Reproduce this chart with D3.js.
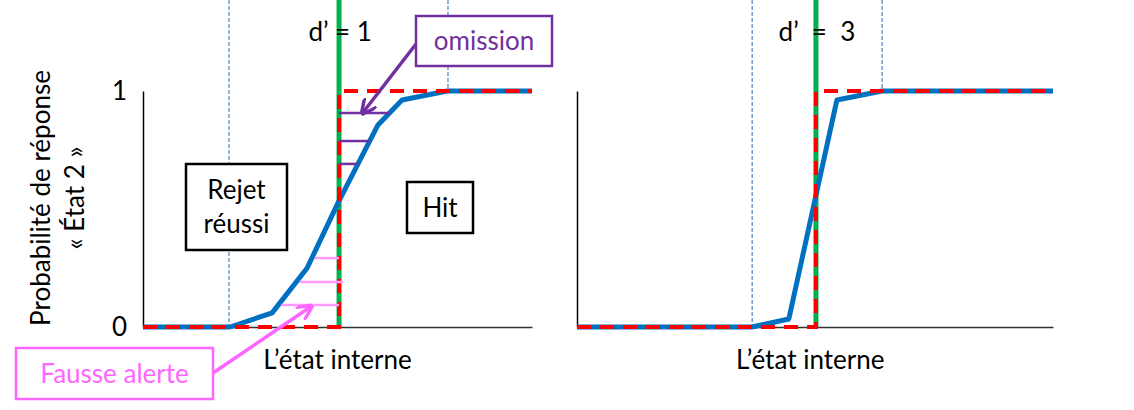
<!DOCTYPE html>
<html>
<head>
<meta charset="utf-8">
<script src="https://cdn.jsdelivr.net/npm/d3@7"></script>
<style>
  body { margin: 0; background: #fff; }
  text { font-family: Lato, "Open Sans", sans-serif; }
</style>
</head>
<body>
<svg id="chart"></svg>
<script>
// courbe psychométrique, panneau d' = 1 (état interne 0..100, probabilité 0..1)
const curve1X = [0, 22.4, 33.2, 42.2, 50.1, 60.4, 66.6, 78.2, 100];
const curve1Y = [0, 0, 0.06, 0.25, 0.525, 0.856, 0.962, 1, 1];
// panneau d' = 3
const curve3X = [0, 36.8, 44.5, 54.6, 64.1, 100];
const curve3Y = [0, 0, 0.034, 0.962, 1, 1];
// critère (ligne verte / échelon rouge)
const criterion1 = 50.4;
const criterion3 = 50.2;
// bornes pointillées (début / fin de la zone de transition)
const bounds1 = [22.1, 78.4];
const bounds3 = [36.8, 64.1];
// hachures omission / fausse alerte (niveaux de probabilité)
const omissionLevels = [0.907, 0.788, 0.691];
const falseAlarmLevels = [0.292, 0.191, 0.093];
const falseAlarmEnds = [50.4, 51.4, 50.4];
const yTicks = [0, 1];
const dLabels = ["d’ = 1", "d’  =  3"];

const width = 1134;
const height = 410;
const fs = 26; // taille de police
const svg = d3.select("#chart").attr("width", width).attr("height", height);
svg.append("rect").attr("width", width).attr("height", height).attr("fill", "#fff");

const plotTop = 91, plotBottom = 327;
const yScale = d3.scaleLinear().domain([0, 1]).range([plotBottom, plotTop]);
const x1 = d3.scaleLinear().domain([0, 100]).range([143, 532]);
const x3 = d3.scaleLinear().domain([0, 100]).range([577, 1053]);

const blue = "#0070C0", red = "#FF0000", green = "#00B050";
const purple = "#7030A0", pink = "#FF66FF", pinkLight = "#FF99FF";

// interpolation inverse : x sur la courbe pour une probabilité donnée
function xAtY(xs, ys, p) {
  for (let i = 1; i < xs.length; i++) {
    if (ys[i] >= p && ys[i - 1] < p) {
      return xs[i - 1] + (p - ys[i - 1]) / (ys[i] - ys[i - 1]) * (xs[i] - xs[i - 1]);
    }
  }
  return xs[xs.length - 1];
}

function drawPanel(xScale, cx, cy, crit, bounds, label, showTicks) {
  const g = svg.append("g");
  // lignes pointillées fines
  g.append("line")
    .attr("x1", xScale(bounds[0])).attr("x2", xScale(bounds[0]))
    .attr("y1", 0).attr("y2", yScale(0))
    .attr("stroke", "#4F81BD").attr("stroke-width", 1.2).attr("stroke-dasharray", "4,2");
  g.append("line")
    .attr("x1", xScale(bounds[1])).attr("x2", xScale(bounds[1]))
    .attr("y1", 0).attr("y2", yScale(1))
    .attr("stroke", "#4F81BD").attr("stroke-width", 1.2).attr("stroke-dasharray", "4,2");

  // axes
  const yAxis = d3.axisLeft(yScale).tickValues(showTicks ? yTicks : []).tickSize(0)
    .tickPadding(16).tickFormat(d3.format("d"));
  const gy = g.append("g").attr("transform", `translate(${xScale(0)},0)`).call(yAxis);
  gy.select(".domain").attr("stroke", "#000").attr("stroke-width", 1.5);
  gy.selectAll("text").attr("font-size", fs).attr("fill", "#000")
    .style("font-family", "Lato, sans-serif");
  const xAxis = d3.axisBottom(xScale).tickValues([]).tickSizeOuter(0);
  const gx = g.append("g").attr("transform", `translate(0,${yScale(0)})`).call(xAxis);
  gx.select(".domain").attr("stroke", "#333").attr("stroke-width", 1.5);

  // ligne du critère
  g.append("line")
    .attr("x1", xScale(crit)).attr("x2", xScale(crit))
    .attr("y1", 0).attr("y2", yScale(0))
    .attr("stroke", green).attr("stroke-width", 5);

  // texte d'
  g.append("text")
    .attr("x", xScale(crit) + 1).attr("y", 41)
    .attr("text-anchor", "middle").attr("font-size", fs).attr("fill", "#000")
    .style("white-space", "pre")
    .text(label);

  const line = d3.line().x(d => xScale(d[0])).y(d => yScale(d[1]));
  const pts = cx.map((v, i) => [v, cy[i]]);
  g.append("path").datum(pts).attr("d", line)
    .attr("fill", "none").attr("stroke", blue).attr("stroke-width", 5)
    .attr("stroke-linejoin", "round");

  // échelon idéal en rouge
  const step = [[0, 0], [crit, 0], [crit, 1], [100, 1]];
  g.append("path").datum(step).attr("d", line)
    .attr("fill", "none").attr("stroke", red).attr("stroke-width", 4)
    .attr("stroke-dasharray", "14,9");
  return g;
}

const g1 = drawPanel(x1, curve1X, curve1Y, criterion1, bounds1, dLabels[0], true);
drawPanel(x3, curve3X, curve3Y, criterion3, bounds3, dLabels[1], false);

// hachures omission (violet)
g1.selectAll(".omis").data(omissionLevels).enter().append("line")
  .attr("x1", x1(criterion1)).attr("x2", d => x1(xAtY(curve1X, curve1Y, d)))
  .attr("y1", d => yScale(d)).attr("y2", d => yScale(d))
  .attr("stroke", purple).attr("stroke-width", 2.5);
// hachures fausse alerte (rose)
g1.selectAll(".fa").data(falseAlarmLevels).enter().append("line")
  .attr("x1", d => x1(xAtY(curve1X, curve1Y, d)) + 3).attr("x2", (d, i) => x1(falseAlarmEnds[i]))
  .attr("y1", d => yScale(d)).attr("y2", d => yScale(d))
  .attr("stroke", pinkLight).attr("stroke-width", 2.5);

// flèches
const defs = svg.append("defs");
[["arrP", purple], ["arrK", pink]].forEach(([id, c]) => {
  defs.append("marker").attr("id", id).attr("viewBox", "0 0 10 10")
    .attr("refX", 8).attr("refY", 5).attr("markerWidth", 4.5).attr("markerHeight", 4.5)
    .attr("orient", "auto")
    .append("path").attr("d", "M0,0 L10,5 L0,10").attr("fill", "none")
    .attr("stroke", c).attr("stroke-width", 2.2);
});
svg.append("line").attr("x1", 416).attr("y1", 44)
  .attr("x2", x1(56.6)).attr("y2", yScale(0.91))
  .attr("stroke", purple).attr("stroke-width", 3.5).attr("marker-end", "url(#arrP)");
svg.append("line").attr("x1", 213).attr("y1", 373)
  .attr("x2", x1(43)).attr("y2", yScale(0.085))
  .attr("stroke", pink).attr("stroke-width", 3.5).attr("marker-end", "url(#arrK)");

// boîtes d'annotation
function box(x, y, w, h, stroke, sw, lines, color, lineH) {
  svg.append("rect").attr("x", x).attr("y", y).attr("width", w).attr("height", h)
    .attr("fill", "#fff").attr("stroke", stroke).attr("stroke-width", sw);
  const t = svg.append("text").attr("text-anchor", "middle").attr("font-size", fs).attr("fill", color);
  const y0 = y + h / 2 - (lines.length - 1) * lineH / 2 + 9;
  lines.forEach((s, i) => t.append("tspan").attr("x", x + w / 2).attr("y", y0 + i * lineH).text(s));
}
box(186, 164, 101, 86, "#000", 2.5, ["Rejet", "réussi"], "#000", 34);
box(407, 182, 66, 51, "#000", 2.5, ["Hit"], "#000", 0);
box(416, 16, 136, 50, purple, 2.5, ["omission"], purple, 0);
box(16, 348, 197, 51, pink, 2.5, ["Fausse alerte"], pink, 0);

// titres d'axes
svg.append("text").attr("x", x1(50)).attr("y", 369).attr("text-anchor", "middle")
  .attr("font-size", fs).text("L’état interne");
svg.append("text").attr("x", x3(49)).attr("y", 369).attr("text-anchor", "middle")
  .attr("font-size", fs).text("L’état interne");
const yt = svg.append("text").attr("transform", "translate(50,198) rotate(-90)")
  .attr("text-anchor", "middle").attr("font-size", fs);
yt.append("tspan").attr("x", 0).attr("y", 0).text("Probabilité de réponse");
yt.append("tspan").attr("x", 0).attr("y", 34).text("« État 2 »");
</script>
</body>
</html>
